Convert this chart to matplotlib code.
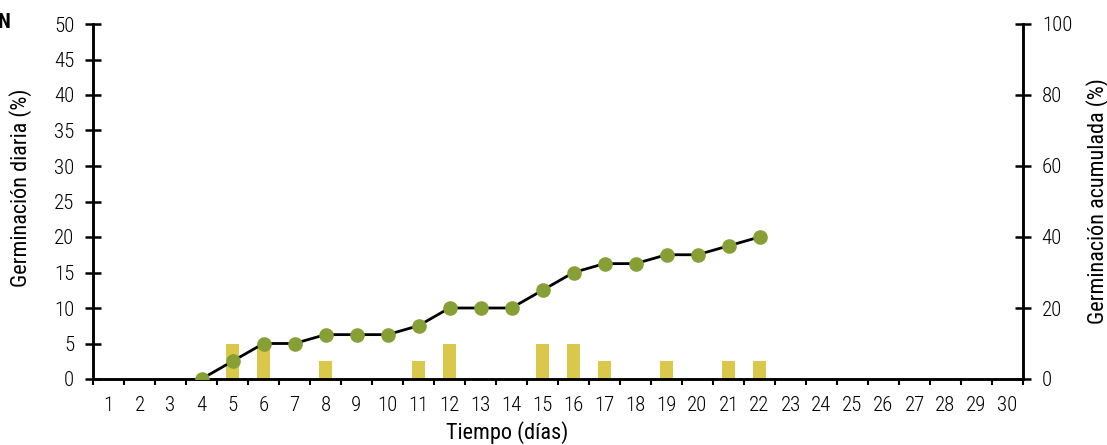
import numpy as np
import matplotlib
matplotlib.use("Agg")
import matplotlib.pyplot as plt
from matplotlib import font_manager
from matplotlib.ticker import FixedLocator

# pick a narrow sans if one is available, else fall back to condensed DejaVu
installed = {f.name for f in font_manager.fontManager.ttflist}
family = "DejaVu Sans"
for name in ["Roboto Condensed", "Liberation Sans Narrow", "Open Sans Condensed", "DejaVu Sans Condensed"]:
    if name in installed:
        family = name
        break
plt.rcParams.update({'font.family': [family, 'DejaVu Sans'], 'font.stretch': 'condensed',
                     'font.weight': 'light', 'font.size': 15})

# daily germination (%) per day, left axis
days = np.arange(1, 31)
daily_days = [5, 6, 8, 11, 12, 15, 16, 17, 19, 21, 22]
daily_pct = [5, 5, 2.5, 2.5, 5, 5, 5, 2.5, 2.5, 2.5, 2.5]

# accumulated germination (%) from day 4 on, right axis
cum_days = [4, 5, 6, 7, 8, 9, 10, 11, 12, 13, 14, 15, 16, 17, 18, 19, 20, 21, 22]
cum_pct = [0, 5, 10, 10, 12.5, 12.5, 12.5, 15, 20, 20, 20, 25, 30, 32.5, 32.5, 35, 35, 37.5, 40]

bar_color = "#dac84b"
dot_color = "#86a036"

fig = plt.figure(figsize=(11.07, 4.45), dpi=100)
ax = fig.add_axes([93 / 1107, 1 - 379 / 445, (1023 - 93) / 1107, (379 - 24) / 445])
ax2 = ax.twinx()

ax.bar(daily_days, daily_pct, width=0.45, color=bar_color, zorder=2)
ax2.plot(cum_days, cum_pct, color="black", lw=2, zorder=3,
         marker="o", markersize=9.5, markerfacecolor=dot_color, markeredgecolor=dot_color)

ax.set_xlim(0.5, 30.5)
ax.set_ylim(0, 50)
ax2.set_ylim(0, 100)

ax.set_xticks(days)
ax.set_xticklabels([str(d) for d in days])
ax.xaxis.set_minor_locator(FixedLocator(np.arange(0.5, 31, 1)))
ax.tick_params(axis="x", which="major", length=0, pad=12, labelsize=15)
ax.tick_params(axis="x", which="minor", length=4, width=1.5, direction="out")

ax.set_yticks(np.arange(0, 51, 5))
ax.tick_params(axis="y", length=11, width=1.8, direction="inout", labelsize=15, pad=8)
ax2.set_yticks(np.arange(0, 101, 20))
ax2.tick_params(axis="y", length=11, width=1.8, direction="inout", labelsize=15, pad=8)

for a in (ax, ax2):
    a.spines["top"].set_visible(False)
    for s in ("left", "right", "bottom"):
        a.spines[s].set_linewidth(1.8)

ax.set_xlabel("Tiempo (días)", fontsize=16)
ax.xaxis.set_label_coords(0.445, -0.118)
ax.set_ylabel("Germinación diaria (%)", fontsize=16)
ax.yaxis.set_label_coords(-0.066, 0.54)
ax2.set_ylabel("Germinación acumulada (%)", fontsize=16, labelpad=10)

fig.text(-0.002, 1 - 22 / 445, "N", fontsize=15, fontweight="bold", va="center", ha="left")

fig.savefig("out.png", dpi=100)
